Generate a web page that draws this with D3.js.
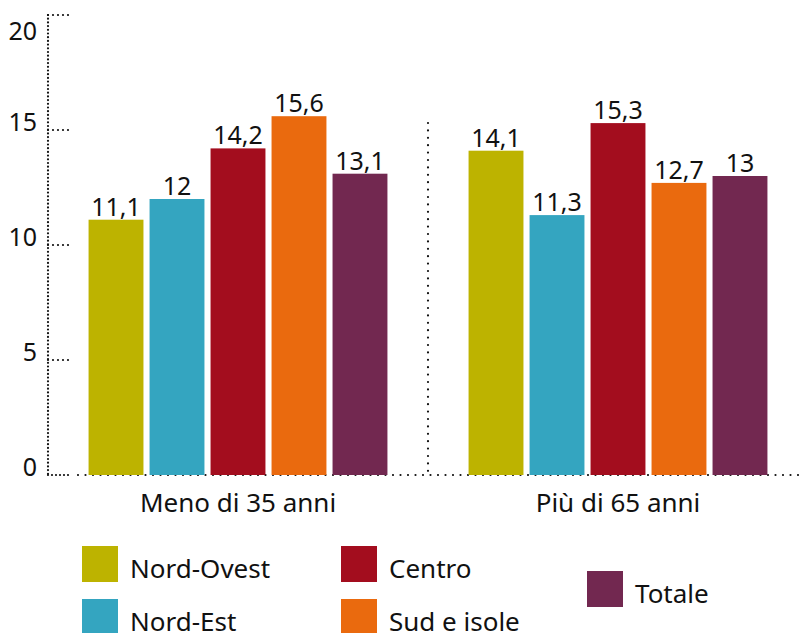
<!DOCTYPE html>
<html>
<head>
<meta charset="utf-8">
<script src="https://cdn.jsdelivr.net/npm/d3@7"></script>
<style>
  body { margin: 0; background: #fff; }
  text { font-family: "Noto Sans", sans-serif; fill: #111; }
</style>
</head>
<body>
<div id="chart"></div>
<script>
// Data
const groups = ['Meno di 35 anni', 'Più di 65 anni'];
const regions = ['Nord-Ovest', 'Nord-Est', 'Centro', 'Sud e isole', 'Totale'];
const colors = ['#bdb300', '#34a5c0', '#a30d1e', '#ea6a0e', '#722850'];
const meno35 = [11.1, 12, 14.2, 15.6, 13.1];
const piu65 = [14.1, 11.3, 15.3, 12.7, 13];
const yTicks = [0, 5, 10, 15, 20];

const values = [meno35, piu65];

const width = 806, height = 633;

const svg = d3.select('#chart').append('svg')
    .attr('width', width).attr('height', height);

// Scales
const y = d3.scaleLinear().domain([0, 20]).range([475, 15]);
const x0 = d3.scaleBand().domain(groups).range([48, 808]);
const x1 = d3.scaleBand().domain(regions).range([0, x0.bandwidth()])
    .paddingInner(0.1).paddingOuter(0.665);
const color = d3.scaleOrdinal().domain(regions).range(colors);

// Left axis (dotted)
svg.append('line')
    .attr('x1', 48).attr('x2', 48).attr('y1', y(20)).attr('y2', y(0))
    .attr('stroke', '#111').attr('stroke-width', 2.2)
    .attr('stroke-dasharray', '0,3.7').attr('stroke-linecap', 'round');

// tick marks and labels
const ticks = svg.append('g');
ticks.selectAll('line').data(yTicks.filter(d => d > 0)).join('line')
    .attr('x1', 48).attr('x2', 69).attr('y1', d => y(d)).attr('y2', d => y(d))
    .attr('stroke', '#111').attr('stroke-width', 2.2)
    .attr('stroke-dasharray', '0,5').attr('stroke-linecap', 'round');
ticks.selectAll('text').data(yTicks).join('text')
    .attr('x', 37).attr('y', d => Math.max(y(d) + 1, 40))
    .attr('text-anchor', 'end')
    .style('font-size', '25px')
    .text(d => d);

// Bottom axis (dotted)
svg.append('line')
    .attr('x1', 48).attr('x2', 70).attr('y1', y(0)).attr('y2', y(0))
    .attr('stroke', '#111').attr('stroke-width', 2.2)
    .attr('stroke-dasharray', '0,4').attr('stroke-linecap', 'round');
svg.append('line')
    .attr('x1', 78).attr('x2', 802).attr('y1', y(0)).attr('y2', y(0))
    .attr('stroke', '#111').attr('stroke-width', 2.2)
    .attr('stroke-dasharray', '0,7.5').attr('stroke-linecap', 'round');

// Separator between groups
svg.append('line')
    .attr('x1', 428).attr('x2', 428).attr('y1', 123).attr('y2', y(0))
    .attr('stroke', '#111').attr('stroke-width', 2.2)
    .attr('stroke-dasharray', '0,7.4').attr('stroke-linecap', 'round');

// Bars
const g = svg.selectAll('.group').data(groups).join('g')
    .attr('class', 'group')
    .attr('transform', d => `translate(${x0(d)},0)`);

g.selectAll('rect')
    .data((d, i) => regions.map((r, j) => ({ region: r, value: values[i][j] })))
    .join('rect')
    .attr('x', d => x1(d.region))
    .attr('width', x1.bandwidth())
    .attr('y', d => y(d.value))
    .attr('height', d => y(0) - y(d.value))
    .attr('fill', d => color(d.region));

g.selectAll('text.val')
    .data((d, i) => regions.map((r, j) => ({ region: r, value: values[i][j] })))
    .join('text')
    .attr('class', 'val')
    .attr('x', d => x1(d.region) + x1.bandwidth() / 2)
    .attr('y', d => y(d.value) - 4)
    .attr('text-anchor', 'middle')
    .style('font-size', '25px')
    .text(d => String(d.value).replace('.', ','));

// Group labels
svg.selectAll('text.grp').data(groups).join('text')
    .attr('class', 'grp')
    .attr('x', d => x0(d) + x0.bandwidth() / 2)
    .attr('y', 512)
    .attr('text-anchor', 'middle')
    .style('font-size', '26px')
    .text(d => d);

// Legend
const legendPos = [
    { x: 82, y: 546 }, { x: 82, y: 599 },
    { x: 341, y: 546 }, { x: 341, y: 599 },
    { x: 587, y: 571 }
];
const legend = svg.selectAll('.legend').data(regions).join('g')
    .attr('class', 'legend')
    .attr('transform', (d, i) => `translate(${legendPos[i].x},${legendPos[i].y})`);
legend.append('rect')
    .attr('width', 36).attr('height', 36)
    .attr('fill', d => color(d));
legend.append('text')
    .attr('x', 48).attr('y', 32)
    .style('font-size', '26px')
    .text(d => d);
</script>
</body>
</html>
